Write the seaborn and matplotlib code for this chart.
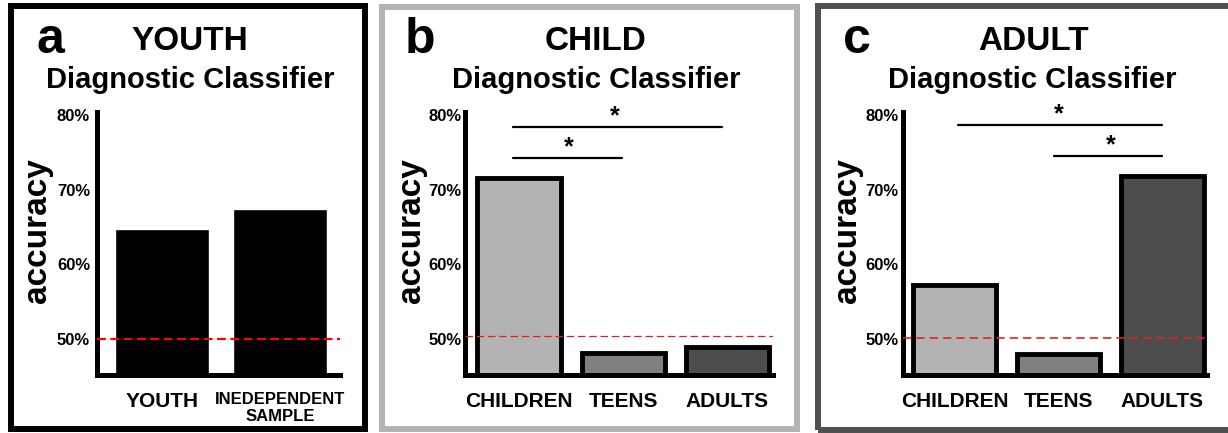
import numpy as np
import pandas as pd
import matplotlib.pyplot as plt
from matplotlib.patches import Rectangle
import seaborn as sns

# data
youth_groups = ["YOUTH", "INEDEPENDENT\nSAMPLE"]
youth_acc = [64.8, 67.4]
age_groups = ["CHILDREN", "TEENS", "ADULTS"]
child_acc = [71.5, 48.1, 49.0]
adult_acc = [57.3, 48.0, 71.9]
# significance brackets: (from group, to group, height, star x)
child_sig = [(-0.06, 1.95, 78.4, 0.92), (-0.06, 0.99, 74.2, 0.48)]
adult_sig = [(0.03, 2.0, 78.6, 1.0), (0.96, 2.0, 74.5, 1.5)]
group_colors = ["#b3b3b3", "#808080", "#4d4d4d"]

sns.set_theme(style="white")
plt.rcParams["font.family"] = ["Liberation Sans", "DejaVu Sans"]
plt.rcParams["font.weight"] = "bold"
for k in ["text.color", "axes.labelcolor", "xtick.color", "ytick.color"]:
    plt.rcParams[k] = "black"

W, H = 1228, 433
fig = plt.figure(figsize=(W / 100, H / 100), dpi=100)


def px_axes(left, right, top, bottom):
    return fig.add_axes([left / W, 1 - bottom / H, (right - left) / W, (bottom - top) / H])


def style_axes(ax, minor=True, pad=5):
    ax.set_ylim(45.2, 80.4)
    ax.set_yticks([50, 60, 70, 80])
    ax.set_yticklabels(["50%", "60%", "70%", "80%"], fontsize=12, fontweight="bold")
    if minor:
        ax.set_yticks([55, 65, 75], minor=True)
        ax.tick_params(axis="y", which="both", direction="in", length=4, width=1, color="black", pad=pad)
    else:
        ax.tick_params(axis="y", length=0, pad=pad)
    ax.tick_params(axis="x", length=0, pad=12)
    for lab in ax.get_xticklabels():
        lab.set_fontweight("bold")
        lab.set_fontsize(15)
    sns.despine(ax=ax)
    for s in ["left", "bottom"]:
        ax.spines[s].set_linewidth(3.6)
        ax.spines[s].set_color("black")
    ax.set_xlabel("")
    ax.set_ylabel("")


def add_sig(ax, sig):
    for x0, x1, y, xs in sig:
        ax.plot([x0, x1], [y, y], color="black", lw=1.6)
        ax.text(xs, y + 0.5, "*", ha="center", va="baseline", fontsize=18, fontweight="bold")


# panel a
ax_a = px_axes(97, 340, 112, 375)
df_a = pd.DataFrame({"group": youth_groups, "acc": youth_acc})
sns.barplot(data=df_a, x="group", y="acc", color="black", width=0.8, ax=ax_a, zorder=2)
ax_a.set_xlim(-0.55, 1.51)
ax_a.axhline(50, color="#ff0000", ls=(0, (4, 2)), lw=1.6, zorder=3)
style_axes(ax_a, minor=False, pad=5)
ax_a.get_xticklabels()[1].set_fontsize(12)

# panel b
ax_b = px_axes(465, 773, 112, 375)
df_b = pd.DataFrame({"group": age_groups, "acc": child_acc})
sns.barplot(data=df_b, x="group", y="acc", hue="group", palette=group_colors, legend=False,
            width=0.8, edgecolor="black", linewidth=3.5, ax=ax_b, zorder=2)
ax_b.set_xlim(-0.52, 2.44)
ax_b.axhline(50.4, color="#e02020", ls=(0, (6, 3)), lw=0.9, zorder=3)
add_sig(ax_b, child_sig)
style_axes(ax_b, pad=2.5)

# panel c
ax_c = px_axes(903, 1207, 112, 375)
df_c = pd.DataFrame({"group": age_groups, "acc": adult_acc})
sns.barplot(data=df_c, x="group", y="acc", hue="group", palette=group_colors, legend=False,
            width=0.8, edgecolor="black", linewidth=3.5, ax=ax_c, zorder=2)
ax_c.set_xlim(-0.5, 2.43)
ax_c.axhline(50.2, color="#e82020", ls=(0, (5, 3)), lw=1.2, zorder=3)
add_sig(ax_c, adult_sig)
style_axes(ax_c, pad=3)


def ftext(x, y, s, **kw):
    fig.text(x / W, 1 - y / H, s, ha="center", va="center", fontweight="bold", **kw)


for letter, lx, head, hx, dx, ax_x in [("a", 50, "YOUTH", 190, 190, 38),
                                        ("b", 420, "CHILD", 596, 596, 412),
                                        ("c", 857, "ADULT", 1033, 1032, 848)]:
    ftext(lx, 40, letter, fontsize=36)
    ftext(hx, 41, head, fontsize=24)
    ftext(dx, 80, "Diagnostic Classifier", fontsize=21)
    ftext(ax_x, 231, "accuracy", fontsize=24, rotation=90)

# panel frames
for x0, y0, x1, y1, col in [(11, 6, 365, 429, "black"),
                            (382, 7, 797, 429, "#b4b4b4"),
                            (818, 6, 1240, 430, "#505050")]:
    fig.add_artist(Rectangle((x0 / W, 1 - y1 / H), (x1 - x0) / W, (y1 - y0) / H,
                             transform=fig.transFigure, fill=False, lw=4.3, edgecolor=col))

fig.savefig("out.png", dpi=100)
